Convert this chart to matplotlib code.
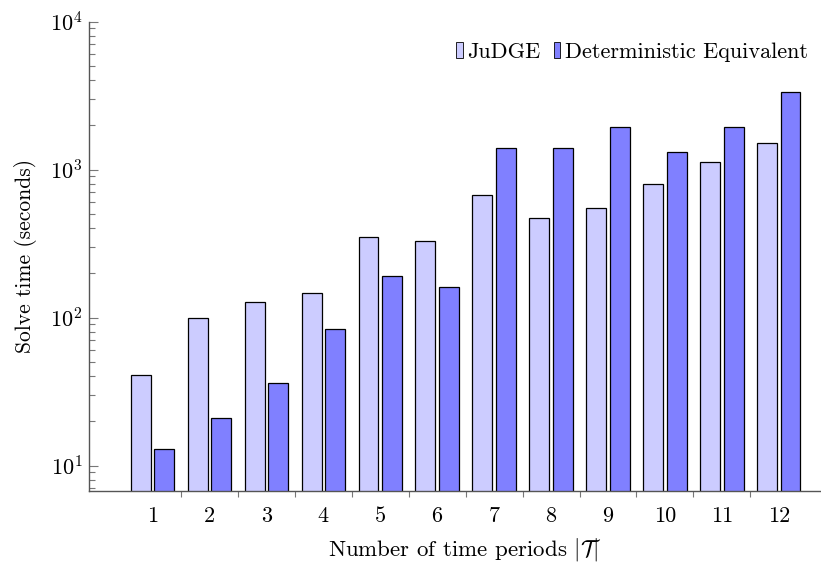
import matplotlib
matplotlib.use('Agg')
import matplotlib.pyplot as plt
import numpy as np
from matplotlib.ticker import LogLocator, LogFormatterSciNotation, NullFormatter, FixedLocator

plt.rcParams['font.family'] = 'serif'
plt.rcParams['font.serif'] = ['cmr10']
plt.rcParams['mathtext.fontset'] = 'cm'
plt.rcParams['axes.formatter.use_mathtext'] = True

# Data
periods = np.arange(1, 13)
judge = [41, 99, 127, 146, 350, 327, 671, 474, 551, 801, 1130, 1520]
det_eq = [13.0, 21.1, 36.2, 83.6, 191, 160, 1405, 1400, 1941, 1314, 1935, 3365]

light = '#ccccff'
dark = '#8080ff'
axis_gray = '#555555'

fig = plt.figure(figsize=(8.21, 5.63), dpi=100)
ax = fig.add_axes([0.1088, 0.1279, 0.8912, 0.8339])

w = 0.35
ax.bar(periods - 0.205, judge, w, color=light, edgecolor='black', linewidth=0.9, label='JuDGE')
ax.bar(periods + 0.205, det_eq, w, color=dark, edgecolor='black', linewidth=0.9,
       label='Deterministic Equivalent')

ax.set_yscale('log')
ax.set_ylim(6.73, 1e4)
ax.set_xlim(-0.107, 12.74)

ax.spines['top'].set_visible(False)
ax.spines['right'].set_visible(False)
for s in ('left', 'bottom'):
    ax.spines[s].set_color(axis_gray)
    ax.spines[s].set_linewidth(1.0)

ax.yaxis.set_major_locator(LogLocator(base=10, numticks=10))
ax.yaxis.set_major_formatter(LogFormatterSciNotation())
ax.yaxis.set_minor_locator(LogLocator(base=10, subs=np.arange(2, 10), numticks=20))
ax.yaxis.set_minor_formatter(NullFormatter())
ax.tick_params(axis='y', which='major', direction='in', length=6.5, width=0.8,
               color='#777777', labelsize=16, pad=5)
ax.tick_params(axis='y', which='minor', direction='in', length=4, width=0.8, color='#777777')

ax.set_xticks(periods)
ax.set_xticklabels([str(p) for p in periods])
ax.xaxis.set_minor_locator(FixedLocator(periods[:-1] + 0.5))
ax.tick_params(axis='x', which='major', length=0, labelsize=16, pad=11)
ax.tick_params(axis='x', which='minor', direction='out', length=4, width=0.8, color='#777777')

ax.set_xlabel(r'Number of time periods $|\mathcal{T}|$', fontsize=16.5)
ax.xaxis.set_label_coords(0.513, -0.095)
ax.set_ylabel('Solve time (seconds)', fontsize=15.5, labelpad=9)

leg = ax.legend(loc='upper right', ncol=2, frameon=False, fontsize=16,
                handlelength=0.3, handleheight=0.75, handletextpad=0.2,
                columnspacing=0.6, borderaxespad=0.2, bbox_to_anchor=(1.0, 0.985))
for h in leg.legend_handles:
    h.set_linewidth(0.6)

fig.savefig('out.png', dpi=100)
